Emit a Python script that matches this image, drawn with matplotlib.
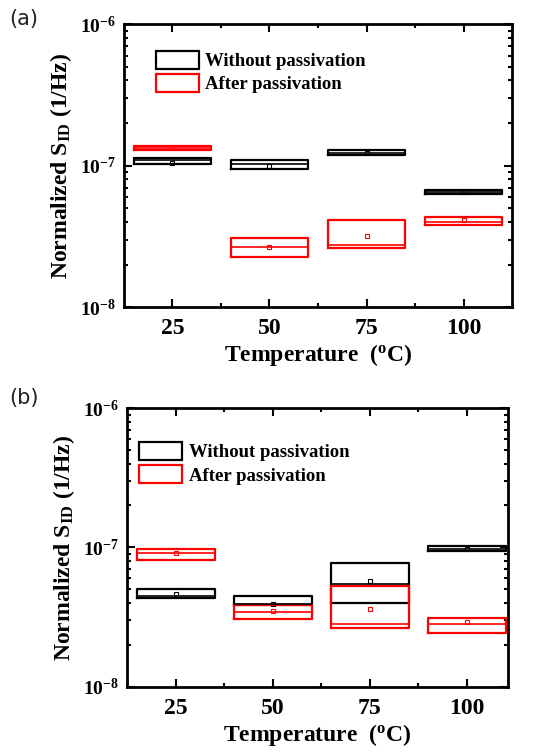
import numpy as np
import matplotlib
matplotlib.use("Agg")
import matplotlib.pyplot as plt
from matplotlib.patches import Patch
from matplotlib.ticker import FuncFormatter, LogLocator, FixedLocator

plt.rcParams['font.family'] = ['Liberation Serif', 'DejaVu Serif']
plt.rcParams['font.weight'] = 'bold'
plt.rcParams['axes.labelweight'] = 'bold'
plt.rcParams['mathtext.fontset'] = 'custom'
plt.rcParams['mathtext.rm'] = 'Liberation Serif:bold'
plt.rcParams['mathtext.bf'] = 'Liberation Serif:bold'
plt.rcParams['mathtext.it'] = 'Liberation Serif:bold'

# Data: box quartiles, medians, means
temps = [25, 50, 75, 100]
series_labels = ['Without passivation', 'After passivation']

a_without_q1 = [1.03e-7, 9.4e-8, 1.18e-7, 6.3e-8]
a_without_med = [1.09e-7, 1.03e-7, 1.23e-7, 6.5e-8]
a_without_q3 = [1.13e-7, 1.09e-7, 1.28e-7, 6.75e-8]
a_without_mean = [1.04e-7, 9.9e-8, 1.23e-7, 6.5e-8]

a_after_q1 = [1.285e-7, 2.27e-8, 2.64e-8, 3.79e-8]
a_after_med = [1.33e-7, 2.67e-8, 2.75e-8, 4.03e-8]
a_after_q3 = [1.37e-7, 3.1e-8, 4.14e-8, 4.35e-8]
a_after_mean = [1.33e-7, 2.67e-8, 3.2e-8, 4.1e-8]

b_without_q1 = [4.35e-8, 3.85e-8, 3.98e-8, 9.4e-8]
b_without_med = [4.49e-8, 3.91e-8, 5.45e-8, 9.8e-8]
b_without_q3 = [5.02e-8, 4.47e-8, 7.76e-8, 1.03e-7]
b_without_mean = [4.6e-8, 3.95e-8, 5.76e-8, 9.8e-8]

b_after_q1 = [8.11e-8, 3.05e-8, 2.66e-8, 2.45e-8]
b_after_med = [9.1e-8, 3.45e-8, 2.84e-8, 2.84e-8]
b_after_q3 = [9.73e-8, 3.85e-8, 5.3e-8, 3.14e-8]
b_after_mean = [9.1e-8, 3.5e-8, 3.6e-8, 2.9e-8]


def make_stats(q1, med, q3, mean):
    return [dict(q1=a, med=m, q3=b, mean=mn, whislo=a, whishi=b, fliers=[])
            for a, m, b, mn in zip(q1, med, q3, mean)]


def draw_panel(ax, groups, xlim, leg_anchor):
    for (q1, med, q3, mean), color in zip(groups, ['black', 'red']):
        stats = make_stats(q1, med, q3, mean)
        ax.bxp(stats, positions=temps, widths=20, showmeans=True,
               showcaps=False, manage_ticks=False,
               boxprops=dict(color=color, lw=1.6),
               medianprops=dict(color=color, lw=1.2),
               whiskerprops=dict(color=color, lw=1.0),
               meanprops=dict(marker='s', markersize=2.5, markerfacecolor='none',
                              markeredgecolor=color, markeredgewidth=0.8))
    ax.set_yscale('log')
    ax.set_ylim(1e-8, 1e-6)
    ax.set_xlim(*xlim)
    ax.xaxis.set_major_locator(FixedLocator(temps))
    ax.xaxis.set_minor_locator(FixedLocator([37.5, 62.5, 87.5]))
    ax.yaxis.set_major_locator(LogLocator(base=10))
    ax.yaxis.set_minor_locator(LogLocator(base=10, subs=np.arange(2, 10)))
    ax.yaxis.set_major_formatter(FuncFormatter(
        lambda v, p: r'$\mathbf{10^{%d}}$' % int(round(np.log10(v)))))
    ax.yaxis.set_minor_formatter(FuncFormatter(lambda v, p: ''))
    ax.set_xticklabels([str(t) for t in temps])
    ax.tick_params(which='both', direction='in', top=True, right=True, width=1.5)
    ax.tick_params(which='major', length=6)
    ax.tick_params(which='minor', length=3)
    ax.tick_params(axis='x', labelsize=17, pad=8)
    ax.tick_params(axis='y', labelsize=14, pad=6)
    for s in ax.spines.values():
        s.set_linewidth(2)
    ax.set_xlabel(r'Temperature  ($^{\mathbf{o}}$C)', fontsize=17, labelpad=2)
    ax.set_ylabel(r'Normalized S$_{\mathbf{ID}}$ (1/Hz)', fontsize=17, labelpad=4)
    handles = [Patch(facecolor='none', edgecolor='black', lw=1.6),
               Patch(facecolor='none', edgecolor='red', lw=1.6)]
    ax.legend(handles, series_labels, loc='upper left', bbox_to_anchor=leg_anchor,
              frameon=False, fontsize=13.5, borderpad=0, handlelength=2.3,
              handleheight=1.1, labelspacing=0.2, handletextpad=0.35,
              borderaxespad=0)


fig = plt.figure(figsize=(5.34, 7.53), dpi=100)
ax1 = fig.add_axes([0.232, 0.592, 0.727, 0.376])
ax2 = fig.add_axes([0.238, 0.088, 0.713, 0.370])

draw_panel(ax1, [(a_without_q1, a_without_med, a_without_q3, a_without_mean),
                 (a_after_q1, a_after_med, a_after_q3, a_after_mean)],
           (12.5, 112.5), (0.082, 0.905))
draw_panel(ax2, [(b_without_q1, b_without_med, b_without_q3, b_without_mean),
                 (b_after_q1, b_after_med, b_after_q3, b_after_mean)],
           (12.5, 110.5), (0.031, 0.878))

fig.text(0.018, 0.988, '(a)', fontsize=15, family='DejaVu Sans', weight='normal',
         color='#222222', va='top')
fig.text(0.018, 0.485, '(b)', fontsize=15, family='DejaVu Sans', weight='normal',
         color='#222222', va='top')

fig.savefig('out.png', dpi=100)
